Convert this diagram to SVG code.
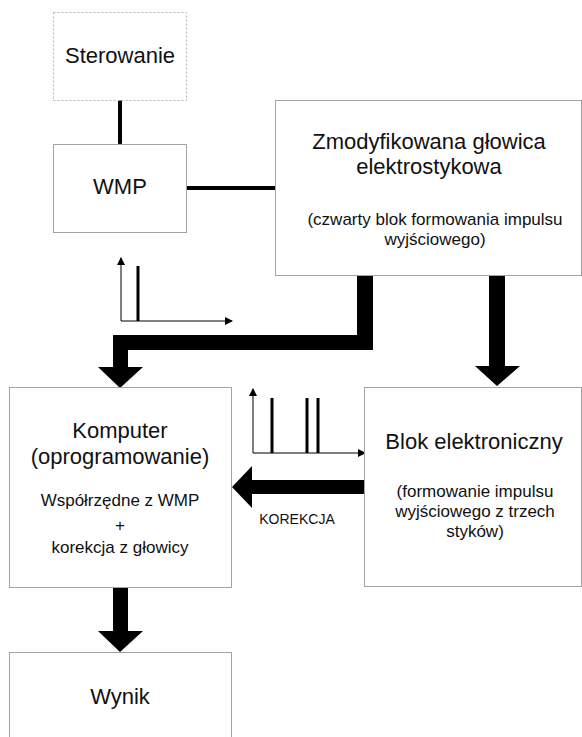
<svg xmlns="http://www.w3.org/2000/svg" width="582" height="737" viewBox="0 0 582 737">
  <style>
    .box { fill: #ffffff; stroke: #a3a3a3; stroke-width: 1; }
    .dash { fill: #ffffff; stroke: #b5b5b5; stroke-width: 1; stroke-dasharray: 2 2; }
    text { font-family: "Liberation Sans", Arial, sans-serif; fill: #111111; text-anchor: middle; }
    .big { font-size: 22px; }
    .small { font-size: 17px; }
    .tiny { font-size: 14px; }
    .link { stroke: #000000; stroke-width: 4; stroke-linecap: round; fill: none; }
    .bold { fill: #000000; }
    .axis { stroke: #000000; stroke-width: 1; fill: none; }
    .spike { stroke: #000000; stroke-width: 3; }
  </style>
  <defs>
    <marker id="axisHead" markerWidth="8" markerHeight="8" refX="7" refY="4" orient="auto" markerUnits="userSpaceOnUse">
      <path d="M0,0 L8,4 L0,8 Z" fill="#000000"/>
    </marker>
  </defs>

  <!-- connectors -->
  <g id="connectors">
    <line class="link" x1="120" y1="101" x2="120" y2="143"/>
    <line class="link" x1="187" y1="188" x2="275" y2="188"/>
    <!-- head output bent down to the computer -->
    <polygon class="bold" points="357,275 373,275 373,350 128,350 128,367 143,367 120,388 98,367 113,367 113,335 357,335"/>
    <!-- head output down to the electronic block -->
    <polygon class="bold" points="489,276 505,276 505,366 520,366 497,386 475,366 489,366"/>
    <!-- correction from electronic block to computer -->
    <polygon class="bold" points="364,480 364,494 252,494 252,508 232,487 252,466 252,480"/>
    <!-- computer to result -->
    <polygon class="bold" points="113,587 128,587 128,631 143,631 120,652 98,631 113,631"/>
    <text class="tiny" x="297" y="524">KOREKCJA</text>
  </g>

  <!-- single pulse plot -->
  <g id="plot-single">
    <line class="axis" x1="121" y1="321" x2="121" y2="258" marker-end="url(#axisHead)"/>
    <line class="axis" x1="121" y1="321" x2="232" y2="321" marker-end="url(#axisHead)"/>
    <line class="spike" x1="138" y1="266" x2="138" y2="321"/>
  </g>

  <!-- triple pulse plot -->
  <g id="plot-triple">
    <line class="axis" x1="253" y1="453" x2="253" y2="389" marker-end="url(#axisHead)"/>
    <line class="axis" x1="253" y1="453" x2="365" y2="453" marker-end="url(#axisHead)"/>
    <line class="spike" x1="272" y1="398" x2="272" y2="453"/>
    <line class="spike" x1="307" y1="398" x2="307" y2="453"/>
    <line class="spike" x1="318" y1="398" x2="318" y2="453"/>
  </g>

  <g id="sterowanie">
    <rect class="dash" x="53.5" y="12.5" width="133" height="88"/>
    <text class="big" x="120" y="63">Sterowanie</text>
  </g>

  <g id="wmp">
    <rect class="box" x="53.5" y="144.5" width="133" height="88"/>
    <text class="big" x="120" y="194">WMP</text>
  </g>

  <g id="glowica">
    <rect class="box" x="275.5" y="100.5" width="306" height="175"/>
    <text class="big" x="429" y="149">Zmodyfikowana głowica</text>
    <text class="big" x="429" y="174">elektrostykowa</text>
    <text class="small" x="435" y="225">(czwarty blok formowania impulsu</text>
    <text class="small" x="435" y="245">wyjściowego)</text>
  </g>

  <g id="komputer">
    <rect class="box" x="9.5" y="387.5" width="222" height="200"/>
    <text class="big" x="120" y="438">Komputer</text>
    <text class="big" x="120" y="464">(oprogramowanie)</text>
    <text class="small" x="120" y="506">Współrzędne z WMP</text>
    <text class="small" x="120" y="531">+</text>
    <text class="small" x="120" y="553">korekcja z głowicy</text>
  </g>

  <g id="blok-elektroniczny">
    <rect class="box" x="364.5" y="387.5" width="217" height="199"/>
    <text class="big" x="474" y="449">Blok elektroniczny</text>
    <text class="small" x="475" y="497">(formowanie impulsu</text>
    <text class="small" x="475" y="517">wyjściowego z trzech</text>
    <text class="small" x="475" y="537">styków)</text>
  </g>

  <g id="wynik">
    <rect class="box" x="9.5" y="652.5" width="222" height="100"/>
    <text class="big" x="120" y="704">Wynik</text>
  </g>
</svg>
